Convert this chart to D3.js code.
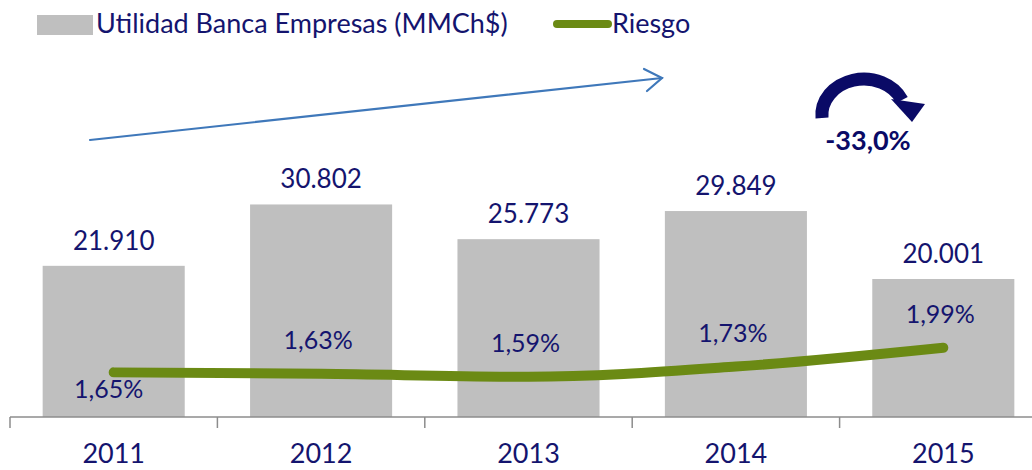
<!DOCTYPE html>
<html>
<head>
<meta charset="utf-8">
<script src="https://cdn.jsdelivr.net/npm/d3@7"></script>
<style>
  body { margin: 0; background: #fff; }
  text { font-family: Lato, "Open Sans", sans-serif; }
</style>
</head>
<body>
<svg id="chart"></svg>
<script>
// Data
const years = ["2011", "2012", "2013", "2014", "2015"];
const utilidad = [21910, 30802, 25773, 29849, 20001];
const riesgo = [1.65, 1.63, 1.59, 1.73, 1.99];
const utilidadLabels = ["21.910", "30.802", "25.773", "29.849", "20.001"];
const riesgoLabels = ["1,65%", "1,63%", "1,59%", "1,73%", "1,99%"];

const width = 1032;
const height = 470;
const navy = "#14146e";
const green = "#6b8a14";

const svg = d3.select("#chart").attr("width", width).attr("height", height);

// Scales
const x = d3.scaleBand().domain(years).range([10, 1047]).paddingInner(0.315).paddingOuter(0.1575);
const y = d3.scaleLinear().domain([0, 40000]).range([417, 141]);
const y2 = d3.scaleLinear().domain([0, 4]).range([492, 202]);
const cx = d => x(d) + x.bandwidth() / 2;

// Bars
svg.append("g")
  .selectAll("rect")
  .data(years)
  .enter()
  .append("rect")
  .attr("x", d => x(d))
  .attr("y", (d, i) => y(utilidad[i]))
  .attr("width", x.bandwidth())
  .attr("height", (d, i) => y(0) - y(utilidad[i]))
  .attr("fill", "#bfbfbf");

// Bar value labels
svg.append("g")
  .selectAll("text")
  .data(years)
  .enter()
  .append("text")
  .attr("x", d => cx(d))
  .attr("y", (d, i) => y(utilidad[i]) - 16)
  .attr("text-anchor", "middle")
  .attr("fill", navy)
  .attr("font-size", "26px")
  .text((d, i) => utilidadLabels[i]);

// Axis
const axis = svg.append("g").attr("transform", `translate(0,${y(0)})`);
axis.append("line")
  .attr("x1", 10).attr("x2", width)
  .attr("stroke", "#8c8c8c").attr("stroke-width", 1.5);
const step = x.step();
axis.selectAll(".tick")
  .data(d3.range(years.length + 1))
  .enter()
  .append("line")
  .attr("x1", i => 10 + i * step)
  .attr("x2", i => 10 + i * step)
  .attr("y1", 0).attr("y2", 11)
  .attr("stroke", "#8c8c8c").attr("stroke-width", 1.5);
axis.selectAll(".year")
  .data(years)
  .enter()
  .append("text")
  .attr("x", d => cx(d))
  .attr("y", 46)
  .attr("text-anchor", "middle")
  .attr("fill", navy)
  .attr("font-size", "27px")
  .text(d => d);

// Riesgo line
const line = d3.line()
  .x((d, i) => cx(years[i]))
  .y(d => y2(d))
  .curve(d3.curveMonotoneX);

svg.append("path")
  .datum(riesgo)
  .attr("d", line)
  .attr("fill", "none")
  .attr("stroke", green)
  .attr("stroke-width", 10)
  .attr("stroke-linecap", "round");

svg.append("g")
  .selectAll("text")
  .data(riesgo)
  .enter()
  .append("text")
  .attr("x", (d, i) => cx(years[i]) - (i === 0 ? 5 : 3))
  .attr("y", (d, i) => i === 0 ? y2(d) + 26 : y2(d) - 25)
  .attr("text-anchor", "middle")
  .attr("fill", navy)
  .attr("font-size", "25px")
  .text((d, i) => riesgoLabels[i]);

// Legend
const legend = svg.append("g");
legend.append("rect")
  .attr("x", 37).attr("y", 15).attr("width", 56).attr("height", 20)
  .attr("fill", "#bfbfbf");
legend.append("text")
  .attr("x", 96).attr("y", 33)
  .attr("fill", navy).attr("font-size", "27px")
  .text("Utilidad Banca Empresas (MMCh$)");
legend.append("line")
  .attr("x1", 557).attr("x2", 608).attr("y1", 24).attr("y2", 24)
  .attr("stroke", green).attr("stroke-width", 8).attr("stroke-linecap", "round");
legend.append("text")
  .attr("x", 612).attr("y", 33)
  .attr("fill", navy).attr("font-size", "27px")
  .text("Riesgo");

// Trend arrow (blue)
const trend = svg.append("g")
  .attr("stroke", "#3f78ba").attr("stroke-width", 2.2).attr("fill", "none")
  .attr("stroke-linecap", "round");
trend.append("line").attr("x1", 90).attr("y1", 140).attr("x2", 662).attr("y2", 78);
trend.append("path").attr("d", "M644,69 L662,78 L647,91");

// Curved drop arrow (navy)
const drop = svg.append("g");
drop.append("path")
  .attr("d", "M822,118 A42,36 0 0 1 902,100")
  .attr("fill", "none")
  .attr("stroke", "#0a0a66")
  .attr("stroke-width", 13);
drop.append("path")
  .attr("d", "M891,99 L925,104 L912,122 Z")
  .attr("fill", "#0a0a66");
drop.append("text")
  .attr("x", 868).attr("y", 150)
  .attr("text-anchor", "middle")
  .attr("fill", "#0a0a66")
  .attr("font-size", "27px")
  .attr("font-weight", "bold")
  .text("-33,0%");
</script>
</body>
</html>
